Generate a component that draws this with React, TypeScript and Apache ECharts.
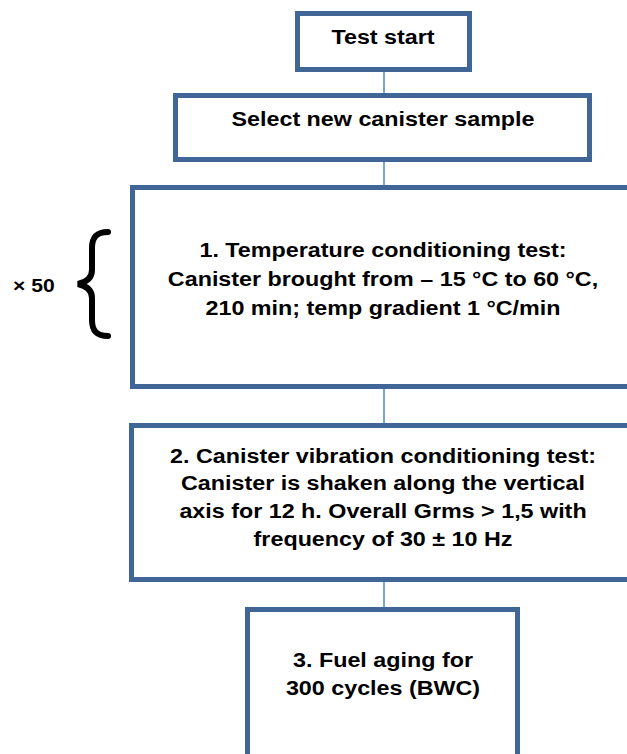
import React, { useEffect, useRef } from "react";
import * as echarts from "echarts";

// Flowchart content
const boxLabels: string[][] = [
  ["Test start"],
  ["Select new canister sample"],
  [
    "1. Temperature conditioning test:",
    "Canister brought from – 15 °C to 60 °C,",
    "210 min; temp gradient 1 °C/min",
  ],
  [
    "2. Canister vibration conditioning test:",
    "Canister is shaken along the vertical",
    "axis for 12 h. Overall Grms > 1,5 with",
    "frequency of 30 ± 10 Hz",
  ],
  ["3. Fuel aging for", "300 cycles (BWC)"],
];
const repeatLabel = "× 50";

// Layout (outer box edges)
const boxRects = [
  { x: 295, y: 11, w: 177, h: 61, textY: 37, lh: 0 },
  { x: 173, y: 93, w: 419, h: 69, textY: 119, lh: 0 },
  { x: 130, y: 185, w: 530, h: 204, textY: 250, lh: 29 },
  { x: 129, y: 423, w: 530, h: 159, textY: 455.5, lh: 27.8 },
  { x: 245, y: 607, w: 275, h: 210, textY: 660, lh: 28 },
];
const connectorX = 384;

const BORDER = "#3f6696";
const CONNECT = "#7ba5d6";
const BW = 5;
const FONT = "'Liberation Sans', Arial, sans-serif";
const STRETCH = 1.11;

const braceD =
  "M108,232 C96,232 92,238 92,248 L92,270 C92,278 87,282 78,284 C87,286 92,290 92,298 L92,320 C92,330 96,336 108,336";

let registered = false;

export default function App() {
  const ref = useRef<HTMLDivElement>(null);
  useEffect(() => {
    document.body.style.margin = "0";
    if (!registered) {
      echarts.graphic.registerShape("brace", echarts.graphic.extendPath(braceD, {}) as any);
      registered = true;
    }
    const chart = echarts.init(ref.current!, null, { renderer: "svg" });
    const elements: any[] = [];
    // connectors
    for (let i = 0; i < boxRects.length - 1; i++) {
      const a = boxRects[i];
      const b = boxRects[i + 1];
      elements.push({
        type: "line",
        shape: { x1: connectorX, y1: a.y + a.h - 2, x2: connectorX, y2: b.y + 2 },
        style: { stroke: CONNECT, lineWidth: 2 },
        z: 1,
      });
    }
    boxRects.forEach((r, i) => {
      elements.push({
        type: "rect",
        shape: { x: r.x + BW / 2, y: r.y + BW / 2, width: r.w - BW, height: r.h - BW },
        style: { fill: "#ffffff", stroke: BORDER, lineWidth: BW },
        z: 2,
      });
      boxLabels[i].forEach((line, j) => {
        elements.push({
          type: "text",
          x: 383,
          y: r.textY + j * r.lh,
          scaleX: STRETCH,
          style: {
            text: line,
            fill: "#000000",
            font: `bold 21px ${FONT}`,
            align: "center",
            verticalAlign: "middle",
          },
          z: 3,
        });
      });
    });
    elements.push({
      type: "text",
      x: 13,
      y: 285,
      scaleX: STRETCH,
      style: {
        text: repeatLabel,
        fill: "#000000",
        font: `bold 19px ${FONT}`,
        align: "left",
        verticalAlign: "middle",
      },
      z: 3,
    });
    elements.push({
      type: "brace",
      x: 0,
      y: 0,
      style: { fill: "none", stroke: "#000000", lineWidth: 6, lineCap: "round" },
      z: 3,
    });
    chart.setOption({
      animation: false,
      backgroundColor: "#ffffff",
      graphic: { elements },
    });
    return () => chart.dispose();
  }, []);
  return <div ref={ref} style={{ width: 627, height: 754 }} />;
}
